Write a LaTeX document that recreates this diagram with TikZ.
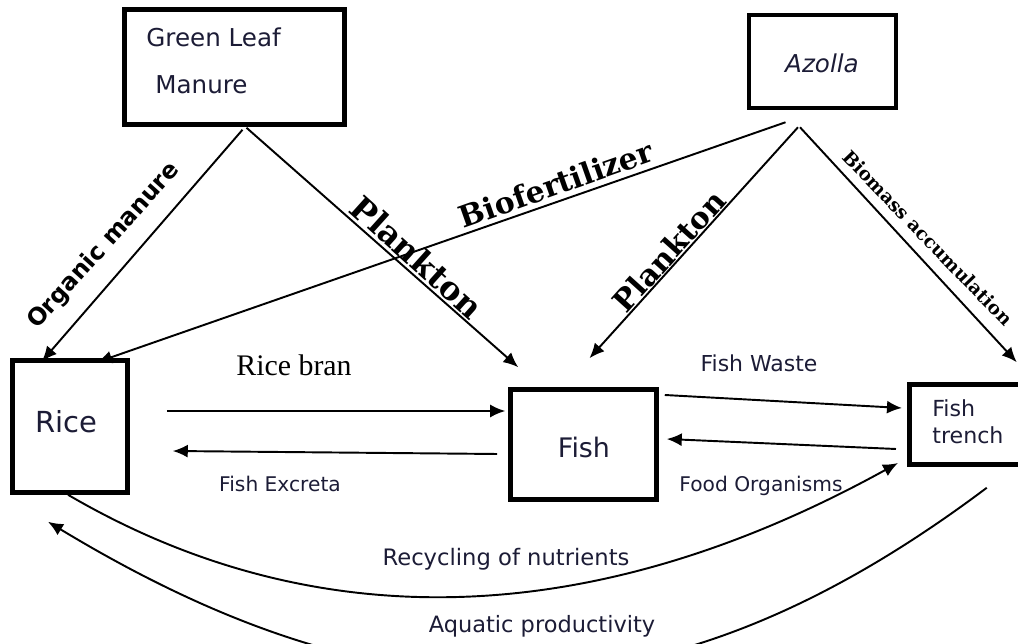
\documentclass[tikz,border=0pt]{standalone}
\usepackage{fontspec}
\usepackage{tikz}
\usetikzlibrary{arrows.meta, calc}
\setmainfont{DejaVu Sans}
\newfontfamily\timesface{Liberation Serif}
\newfontfamily\slabface{DejaVu Serif}
\definecolor{colInk}{HTML}{1C1C36}
\tikzset{
  box/.style={draw, line width=2.6pt, inner sep=0pt},
  txt/.style={text=colInk, inner sep=0pt, anchor=base},
  flow/.style={
    -{Latex[length=3mm,width=2.6mm]},
    line width=1.1pt
  },
  tag/.style={inner sep=0pt, font=\slabface\bfseries\fontsize{17}{17}\selectfont}
}

\begin{document}
\begin{tikzpicture}[x=0.02cm, y=-0.02cm]
  \useasboundingbox (0,0) rectangle (1018,644);
  % boxes
  \node[box, minimum width=4.4cm,  minimum height=2.3cm]  (glm)    at (234.5,67)     {};
  \node[box, minimum width=2.94cm, minimum height=1.86cm] (azolla) at (822.5,61.5)   {};
  \node[box, minimum width=2.3cm,  minimum height=2.64cm] (rice)   at (70,426.5)     {};
  \node[box, minimum width=2.92cm, minimum height=2.2cm]  (fish)   at (583.5,444.5)  {};
  \node[box, minimum width=2.3cm,  minimum height=1.6cm]  (trench) at (966.75,424.5) {};
  % texts in the boxes
  \node[txt, anchor=base west, font=\fontsize{14}{16}\selectfont] (tgreen)  at (146,47)  {Green Leaf};
  \node[txt, anchor=base west, font=\fontsize{14}{16}\selectfont] (tmanure) at (155,94)  {Manure};
  \node[txt, font=\itshape\fontsize{14}{16}\selectfont]           (tazolla) at (822,73)  {Azolla};
  \node[txt, font=\fontsize{16.5}{18}\selectfont]                 (trice)   at (66,433)  {Rice};
  \node[txt, font=\fontsize{15.3}{17}\selectfont]                 (tfish)   at (584,458) {Fish};
  \node[txt, anchor=base west, font=\fontsize{12.6}{14}\selectfont] (tfishb) at (932,417) {Fish};
  \node[txt, anchor=base west, font=\fontsize{12.6}{14}\selectfont] (ttrench) at (932,444) {trench};
  % inputs from the top
  \draw[flow] ($(glm.south)+(8,3)$)      -- ($(rice.north)+(-28,3)$);
  \draw[flow] ($(glm.south)+(12,1)$)     -- ($(fish.north west)+(10,-20)$);
  \draw[flow] ($(azolla.south)+(-37,12)$) -- ($(rice.north)+(27,4)$);
  \draw[flow] ($(azolla.south)+(-24.5,17)$) -- ($(fish.north)+(6,-29)$);
  \draw[flow] ($(azolla.south)+(-22.5,17)$) -- ($(trench.north)+(50,-20)$);
  % exchanges
  \draw[flow] ($(rice.east)+(37,-15.5)$)  -- ($(fish.west)+(-3,-33.5)$);
  \draw[flow] ($(fish.west)+(-11,9.5)$)   -- ($(rice.east)+(43,24.5)$);
  \draw[flow] ($(fish.east)+(6,-49.5)$)   -- ($(trench.west)+(-5,-16.5)$);
  \draw[flow] ($(trench.west)+(-11,24.5)$) -- ($(fish.east)+(8,-5.5)$);
  \draw[flow] ($(rice.south)+(-2,0)$) .. controls (301,631) and (577,640) .. ($(trench.west)+(-9,38.5)$);
  \draw[flow] ($(trench.south)+(20,21)$) .. controls (667,728) and (392,730) .. ($(rice.south)+(-22,27)$);
  % labels
  \node[inner sep=0pt, rotate=48, font=\bfseries\fontsize{13.5}{14}\selectfont] (lorg) at (104,246) {Organic manure};
  \node[tag, rotate=-42, font=\slabface\bfseries\fontsize{18.5}{19}\selectfont] (lplk1) at (417,257) {Plankton};
  \node[tag, rotate=19.5] (lbio) at (556,184) {Biofertilizer};
  \node[tag, rotate=48] (lplk2) at (669,251) {Plankton};
  \node[tag, rotate=-46, font=\slabface\bfseries\fontsize{10.5}{11}\selectfont] (lmass) at (928,238) {Biomass accumulation};
  \node[txt, text=black, font=\timesface\fontsize{17}{19}\selectfont] (lbran) at (294,376) {Rice bran};
  \node[txt, font=\fontsize{11.5}{13}\selectfont]   (lexc)  at (280,492) {Fish Excreta};
  \node[txt, font=\fontsize{12.5}{14}\selectfont]   (lwaste) at (759,372) {Fish Waste};
  \node[txt, font=\fontsize{11.5}{13}\selectfont]   (lfood) at (761,492) {Food Organisms};
  \node[txt, font=\fontsize{12.9}{15}\selectfont]   (lrec)  at (506,566) {Recycling of nutrients};
  \node[txt, font=\fontsize{12.8}{15}\selectfont]   (laqu)  at (542,633) {Aquatic productivity};
\end{tikzpicture}
\end{document}
